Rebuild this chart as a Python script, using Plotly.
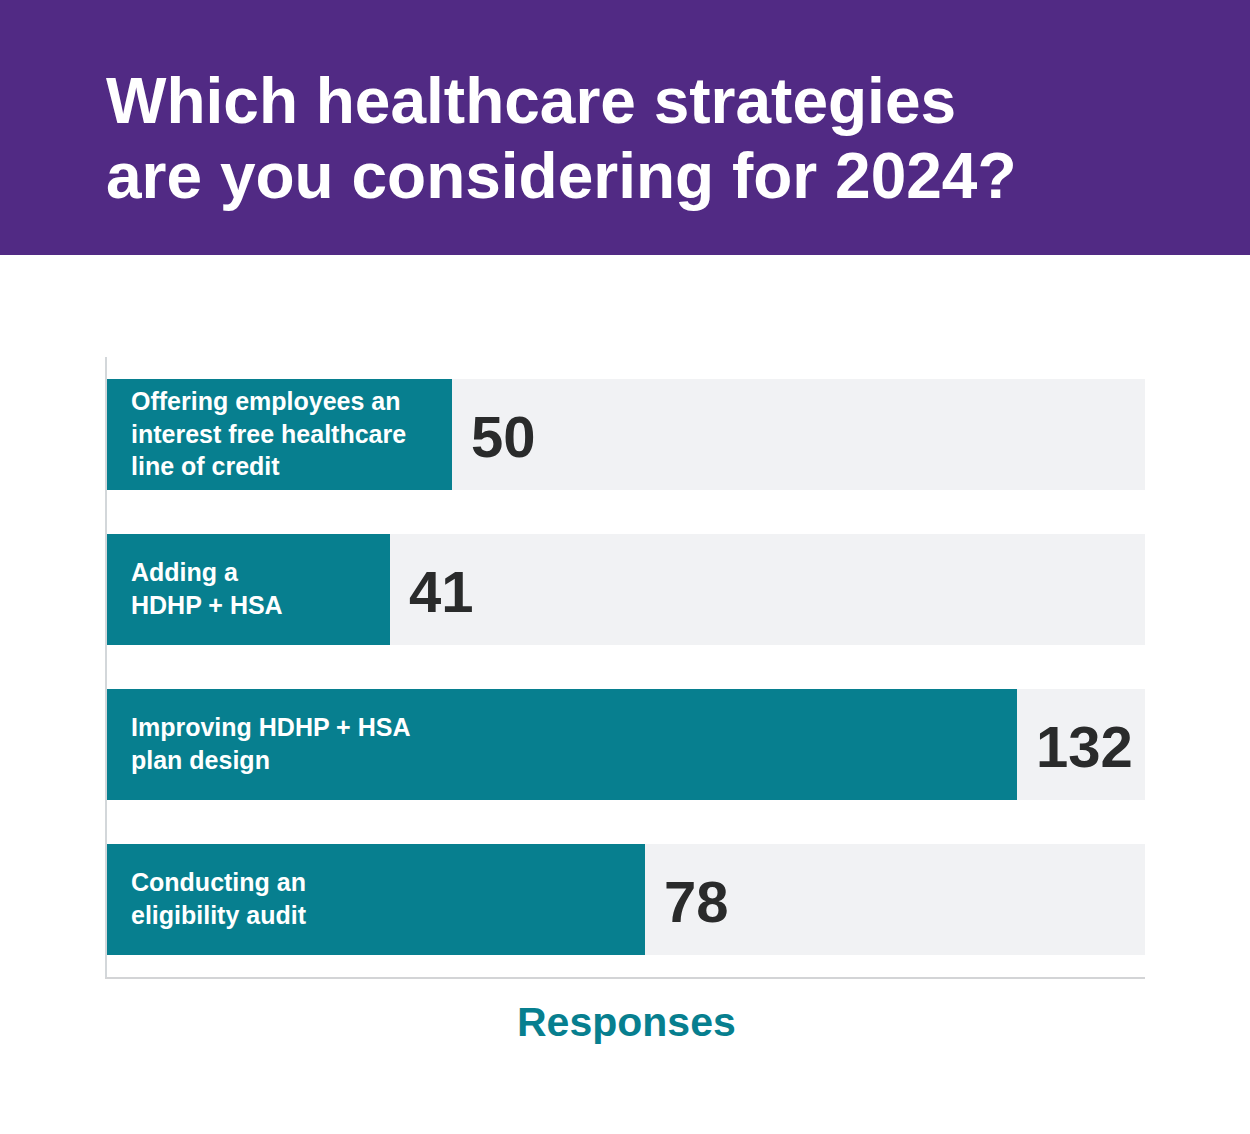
import plotly.graph_objects as go

categories = [
    "Offering employees an<br>interest free healthcare<br>line of credit",
    "Adding a<br>HDHP + HSA",
    "Improving HDHP + HSA<br>plan design",
    "Conducting an<br>eligibility audit",
]
values = [50, 41, 132, 78]
x_max = 150.5
axis_title = "Responses"
title_lines = ["Which healthcare strategies", "are you considering for 2024?"]

TEAL = "#077F8F"
TRACK = "#F1F2F4"
PURPLE = "#512A84"
W, H = 1250, 1134

fig = go.Figure()
fig.add_trace(go.Bar(
    y=list(range(len(categories))), x=[x_max] * len(categories), orientation="h",
    marker=dict(color=TRACK, line=dict(width=0)), width=0.716, hoverinfo="skip",
))
fig.add_trace(go.Bar(
    y=list(range(len(categories))), x=values, orientation="h",
    marker=dict(color=TEAL, line=dict(width=0)), width=0.716,
))

annotations = []
for i, (c, v) in enumerate(zip(categories, values)):
    annotations.append(dict(
        x=0, y=i, xref="x", yref="y", text=f"<b>{c}</b>", showarrow=False,
        xanchor="left", yanchor="middle", xshift=22, yshift=1, align="left",
        font=dict(family="Liberation Sans", size=25, color="white"),
    ))
    annotations.append(dict(
        x=v, y=i, xref="x", yref="y", text=f"<b>{v}</b>", showarrow=False,
        xanchor="left", yanchor="middle", xshift=17, yshift=-2,
        font=dict(family="Liberation Sans", size=58, color="#2A2B2B"),
    ))

annotations.append(dict(
    x=(107 + 1145) / 2 / W, y=1 - 1022 / H, xref="paper", yref="paper",
    text=f"<b>{axis_title}</b>", showarrow=False, xanchor="center", yanchor="middle",
    font=dict(family="Liberation Sans", size=41, color=TEAL),
))
for k, line in enumerate(title_lines):
    annotations.append(dict(
        x=104 / W, y=1 - (101 + 75 * k) / H, xref="paper", yref="paper",
        text=f"<b>{line}</b>", showarrow=False, xanchor="left", yanchor="middle",
        font=dict(family="Liberation Sans", size=64, color="white"),
    ))

fig.update_layout(
    width=W, height=H, margin=dict(l=0, r=0, t=0, b=0),
    paper_bgcolor="white", plot_bgcolor="white",
    barmode="overlay", showlegend=False, bargap=0,
    annotations=annotations,
    shapes=[
        dict(type="rect", xref="paper", yref="paper", x0=0, x1=1, y0=1 - 255 / H, y1=1,
             fillcolor=PURPLE, line=dict(width=0), layer="below"),
    ],
    xaxis=dict(domain=[107 / W, 1145 / W], range=[0, x_max], showgrid=False, zeroline=False,
               showticklabels=False, showline=True, linecolor="#D3D4D6", linewidth=2,
               fixedrange=True),
    yaxis=dict(domain=[1 - 977 / H, 1 - 357 / H], range=[len(categories) - 0.5, -0.5],
               showgrid=False, zeroline=False, showticklabels=False, showline=True,
               linecolor="#D3D7DA", linewidth=2, fixedrange=True),
)

fig.write_html("out.html")
